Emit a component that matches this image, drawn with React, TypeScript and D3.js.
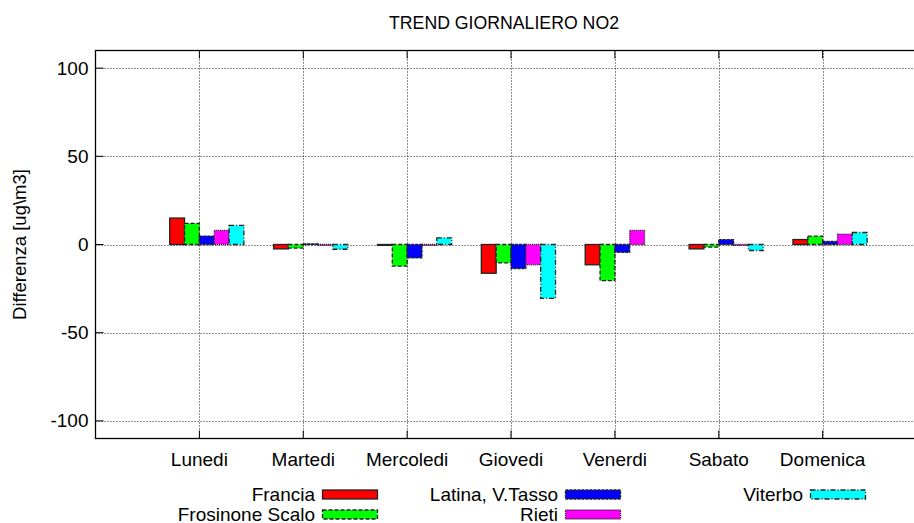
import React from "react";
import * as d3 from "d3";

const days = ["Lunedi", "Martedi", "Mercoledi", "Giovedi", "Venerdi", "Sabato", "Domenica"];
const seriesNames = ["Francia", "Frosinone Scalo", "Latina, V.Tasso", "Rieti", "Viterbo"];
const francia = [15, -2.5, -0.5, -16.3, -11.5, -2.5, 2.8];
const frosinone = [12, -2, -12.3, -10.4, -20.5, -1.5, 4.7];
const latina = [4.8, 0.4, -7.6, -13.6, -4.4, 2.8, 1.7];
const rieti = [8, -0.5, -0.5, -11.5, 8, -0.5, 5.9];
const viterbo: (number | null)[] = [10.8, -2.7, 3.8, -30.5, null, -3.4, 6.8];
const seriesValues = [francia, frosinone, latina, rieti, viterbo];
const colors = ["#ff0000", "#00ff00", "#0000ff", "#ff00ff", "#00ffff"];
const dashes = [null, "4,2", "3,1", "1,1", "5,2,1,2"];
const yTicks = [-100, -50, 0, 50, 100];

const W = 914;
const H = 523;
const margin = { left: 95.5, right: 913, top: 50.5, bottom: 438.5 };

export default function App() {
  const x = d3.scaleLinear().domain([-1, 6.87]).range([margin.left, margin.right]);
  const y = d3.scaleLinear().domain([-110, 110]).range([margin.bottom, margin.top]);
  const bw = 1 / 7;
  const font = "'Liberation Sans', Arial, sans-serif";

  const legendPos = [
    { tx: 315, row: 0 },
    { tx: 315, row: 1 },
    { tx: 558, row: 0 },
    { tx: 558, row: 1 },
    { tx: 803, row: 0 },
  ];

  return (
    <svg width={W} height={H} style={{ position: "absolute", left: 0, top: 0 }} fontFamily={font}>
      <rect width={W} height={H} fill="#fff" />
      <text x={504} y={28.5} textAnchor="middle" fontSize={17.7}>TREND GIORNALIERO NO2</text>
      {/* grid */}
      {yTicks.map((t) => (
        <line key={"gy" + t} x1={margin.left} x2={margin.right} y1={Math.round(y(t)) + 0.5} y2={Math.round(y(t)) + 0.5}
          stroke="#222" strokeWidth={1} strokeDasharray="1,2" />
      ))}
      {days.map((d, i) => (
        <line key={"gx" + d} x1={Math.round(x(i)) + 0.5} x2={Math.round(x(i)) + 0.5} y1={margin.top} y2={margin.bottom}
          stroke="#222" strokeWidth={1} strokeDasharray="1,2" />
      ))}
      {/* bars */}
      {seriesValues.map((vals, s) =>
        vals.map((v, i) => {
          if (v === null) return null;
          const cx = i + (s - 1.5) * bw;
          const x0 = x(cx - bw / 2);
          const x1 = x(cx + bw / 2);
          const y0 = y(Math.max(0, v));
          const y1 = y(Math.min(0, v));
          return (
            <rect key={s + "-" + i} x={x0} y={y0} width={x1 - x0} height={Math.max(y1 - y0, 0.8)}
              fill={colors[s]} stroke="#222" strokeWidth={1.3}
              strokeDasharray={dashes[s] ?? undefined} />
          );
        })
      )}
      {/* border */}
      <rect x={margin.left} y={margin.top} width={margin.right - margin.left + 2} height={margin.bottom - margin.top}
        fill="none" stroke="#000" strokeWidth={1.3} />
      {/* y ticks */}
      {yTicks.map((t) => (
        <g key={"ty" + t}>
          <line x1={margin.left} x2={margin.left + 8} y1={y(t)} y2={y(t)} stroke="#000" />
          <text x={margin.left - 7} y={y(t) + 6.5} textAnchor="end" fontSize={19}>{t}</text>
        </g>
      ))}
      {/* x ticks */}
      {days.map((d, i) => (
        <g key={"tx" + d}>
          <line x1={x(i)} x2={x(i)} y1={margin.bottom} y2={margin.bottom - 8} stroke="#000" />
          <line x1={x(i)} x2={x(i)} y1={margin.top} y2={margin.top + 8} stroke="#000" />
          <text x={x(i)} y={466} textAnchor="middle" fontSize={19}>{d}</text>
        </g>
      ))}
      <text transform={`translate(26,${y(0)}) rotate(-90)`} textAnchor="middle" fontSize={18.5}>Differenza [ug\m3]</text>
      {/* legend */}
      {seriesNames.map((n, s) => {
        const p = legendPos[s];
        const cy = p.row === 0 ? 494.5 : 514.5;
        return (
          <g key={"lg" + n}>
            <text x={p.tx} y={cy + 6} textAnchor="end" fontSize={19}>{n}</text>
            <rect x={p.tx + 7.5} y={cy - 4.5} width={55} height={9} fill={colors[s]} stroke="#222" strokeWidth={1.3}
              strokeDasharray={dashes[s] ?? undefined} />
          </g>
        );
      })}
    </svg>
  );
}
